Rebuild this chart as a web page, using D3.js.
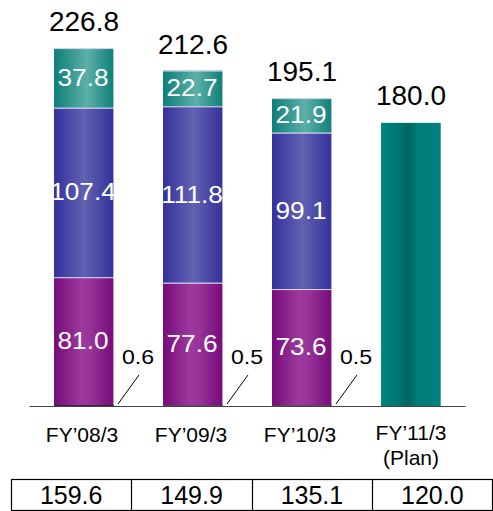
<!DOCTYPE html>
<html>
<head>
<meta charset="utf-8">
<script src="https://cdn.jsdelivr.net/npm/d3@7"></script>
<style>
  html, body { margin: 0; padding: 0; background: #fff; }
  svg { display: block; font-family: "Liberation Sans", Arial, sans-serif; }
</style>
</head>
<body>
<svg id="chart" width="493" height="511"></svg>
<script>
// ---- data ----
const categories = ["FY\u201908/3", "FY\u201909/3", "FY\u201910/3", "FY\u201911/3"];
const subLabels = ["", "", "", "(Plan)"];
const otherValues = [0.6, 0.5, 0.5, 0];
const purpleValues = [81.0, 77.6, 73.6, 0];
const blueValues = [107.4, 111.8, 99.1, 0];
const tealValues = [37.8, 22.7, 21.9, 0];
const planValues = [0, 0, 0, 180.0];
const totals = [226.8, 212.6, 195.1, 180.0];
const tableValues = [159.6, 149.9, 135.1, 120.0];

const seriesKeys = ["other", "purple", "blue", "teal", "plan"];
const seriesData = { other: otherValues, purple: purpleValues, blue: blueValues, teal: tealValues, plan: planValues };

const rows = categories.map((c, i) => {
  const r = { cat: c };
  seriesKeys.forEach(k => r[k] = seriesData[k][i]);
  return r;
});

const svg = d3.select("#chart");
const defs = svg.append("defs");

function grad(id, stops) {
  const g = defs.append("linearGradient").attr("id", id)
    .attr("x1", "0%").attr("x2", "100%").attr("y1", "0%").attr("y2", "0%");
  stops.forEach(([o, c]) => g.append("stop").attr("offset", o).attr("stop-color", c));
}
grad("g-purple", [["0%", "#760a7a"], ["45%", "#9c3a9c"], ["60%", "#983499"], ["100%", "#760a7a"]]);
grad("g-blue", [["0%", "#33319a"], ["50%", "#6262b2"], ["100%", "#33319a"]]);
grad("g-teal", [["0%", "#0e7e78"], ["55%", "#5cb0a8"], ["100%", "#0e7e78"]]);
grad("g-plan", [["0%", "#00857f"], ["28%", "#007570"], ["45%", "#006561"], ["62%", "#007c79"], ["100%", "#008080"]]);

const fills = { other: "#2a1030", purple: "url(#g-purple)", blue: "url(#g-blue)", teal: "url(#g-teal)", plan: "url(#g-plan)" };

const baseY = 406;
const x = d3.scaleBand().domain(categories).range([29.5, 465.5]).paddingInner(0.45).paddingOuter(0.225);
const y = d3.scaleLinear().domain([0, 250]).range([baseY, baseY - 250 * 1.578]);

const stack = d3.stack().keys(seriesKeys)(rows);

const layers = svg.append("g").selectAll("g").data(stack).join("g")
  .attr("fill", d => fills[d.key]);

layers.selectAll("rect").data(d => d.map(v => ({ v, key: d.key })).filter(o => o.v[1] - o.v[0] > 0))
  .join("rect")
  .attr("x", o => x(o.v.data.cat))
  .attr("width", x.bandwidth())
  .attr("y", o => y(o.v[1]))
  .attr("height", o => y(o.v[0]) - y(o.v[1]));

// separators (top edge of each segment) and light right edge
const sepG = svg.append("g");
stack.forEach(layer => {
  if (layer.key === "other") return;
  layer.forEach(v => {
    if (v[1] - v[0] <= 0) return;
    sepG.append("line")
      .attr("x1", x(v.data.cat)).attr("x2", x(v.data.cat) + x.bandwidth())
      .attr("y1", y(v[1]) + 0.5).attr("y2", y(v[1]) + 0.5)
      .attr("stroke", layer.key === "plan" ? "#e8f4f4" : "#dcdcf4").attr("stroke-width", 1);
    sepG.append("line")
      .attr("x1", x(v.data.cat) + x.bandwidth() - 0.5).attr("x2", x(v.data.cat) + x.bandwidth() - 0.5)
      .attr("y1", y(v[1])).attr("y2", y(v[0]))
      .attr("stroke", "#ffffff").attr("stroke-opacity", layer.key === "plan" ? 0.3 : 0.6).attr("stroke-width", 1);
  });
});

// axis line
svg.append("line").attr("x1", 29.5).attr("x2", 465.5).attr("y1", baseY + 0.5).attr("y2", baseY + 0.5)
  .attr("stroke", "#444").attr("stroke-width", 1);

// segment labels (white)
const labG = svg.append("g");
stack.forEach(layer => {
  if (layer.key === "other" || layer.key === "plan") return;
  layer.forEach(v => {
    const val = v[1] - v[0];
    if (val <= 0) return;
    const cx = x(v.data.cat) + x.bandwidth() / 2;
    const cy = (y(v[0]) + y(v[1])) / 2;
    labG.append("g").attr("transform", `translate(${cx - 1},${cy + 8}) scale(1.14,1)`)
      .append("text").attr("text-anchor", "middle").attr("font-size", 23).attr("fill", "#fff")
      .text(val.toFixed(1));
  });
});

// small "other" callouts
rows.forEach((r, i) => {
  if (!(r.other > 0)) return;
  const xr = x(r.cat) + x.bandwidth();
  svg.append("line").attr("x1", xr + 4).attr("y1", baseY - 2).attr("x2", xr + 25).attr("y2", baseY - 31)
    .attr("stroke", "#000").attr("stroke-width", 1);
  svg.append("g").attr("transform", `translate(${xr + 24},${baseY - 42}) scale(1.1,1)`)
    .append("text").attr("text-anchor", "middle").attr("font-size", 21).attr("fill", "#000")
    .text(r.other.toFixed(1));
});

// totals
totals.forEach((t, i) => {
  svg.append("text").attr("x", x(categories[i]) + x.bandwidth() / 2).attr("y", y(t) - 17)
    .attr("text-anchor", "middle").attr("font-size", 28).attr("fill", "#000").text(t.toFixed(1));
});

// category labels
categories.forEach((c, i) => {
  const cx = x(c) + x.bandwidth() / 2;
  const t = svg.append("text").attr("text-anchor", "middle").attr("font-size", 21).attr("fill", "#000");
  if (subLabels[i]) {
    t.append("tspan").attr("x", cx).attr("y", 440).text(c);
    t.append("tspan").attr("x", cx).attr("y", 465).text(subLabels[i]);
  } else {
    t.append("tspan").attr("x", cx - 2).attr("y", 442).text(c);
  }
});

// table
const tx = d3.scaleBand().domain(categories).range([11, 492.5]);
const tableTop = 479.5, tableBottom = 510.5;
svg.append("rect").attr("x", 11.5).attr("y", tableTop).attr("width", 481).attr("height", tableBottom - tableTop)
  .attr("fill", "none").attr("stroke", "#000").attr("stroke-width", 1.2);
categories.slice(1).forEach(c => {
  svg.append("line").attr("x1", Math.round(tx(c)) + 0.5).attr("x2", Math.round(tx(c)) + 0.5)
    .attr("y1", tableTop).attr("y2", tableBottom).attr("stroke", "#000").attr("stroke-width", 1.2);
});
tableValues.forEach((v, i) => {
  svg.append("text").attr("x", tx(categories[i]) + tx.bandwidth() / 2).attr("y", 504)
    .attr("text-anchor", "middle").attr("font-size", 25).attr("fill", "#000").text(v.toFixed(1));
});
</script>
</body>
</html>
